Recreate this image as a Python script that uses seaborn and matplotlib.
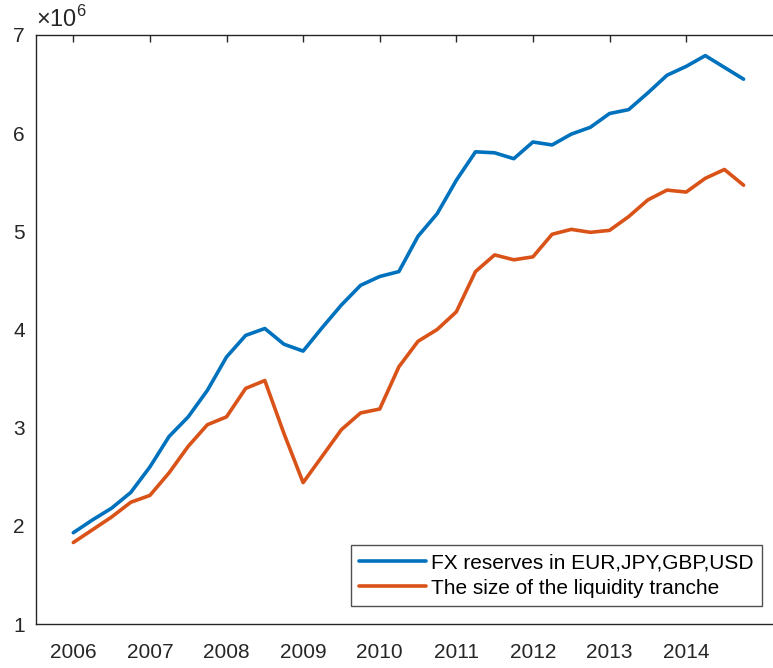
import numpy as np
import pandas as pd
import matplotlib
matplotlib.use("Agg")
import matplotlib.pyplot as plt
import seaborn as sns

# quarterly observations, values in millions (axis shows x10^6)
quarters = np.arange(2006, 2015, 0.25)
fx_reserves = [1.93, 2.06, 2.18, 2.34, 2.60, 2.91, 3.11, 3.38,
               3.72, 3.94, 4.01, 3.85, 3.78, 4.02, 4.25, 4.45,
               4.54, 4.59, 4.95, 5.18, 5.52, 5.81, 5.80, 5.74,
               5.91, 5.88, 5.99, 6.06, 6.20, 6.24, 6.41, 6.59,
               6.68, 6.79, 6.67, 6.55]
liquidity_tranche = [1.83, 1.96, 2.09, 2.24, 2.31, 2.54, 2.81, 3.03,
                     3.11, 3.40, 3.48, 2.94, 2.44, 2.71, 2.98, 3.15,
                     3.19, 3.62, 3.88, 4.00, 4.18, 4.59, 4.76, 4.71,
                     4.74, 4.97, 5.02, 4.99, 5.01, 5.15, 5.32, 5.42,
                     5.40, 5.54, 5.63, 5.47]
series_names = ["FX reserves in EUR,JPY,GBP,USD", "The size of the liquidity tranche"]
year_ticks = [2006, 2007, 2008, 2009, 2010, 2011, 2012, 2013, 2014]

df = pd.DataFrame({
    "date": np.concatenate([quarters, quarters]),
    "value": fx_reserves + liquidity_tranche,
    "series": [series_names[0]] * len(quarters) + [series_names[1]] * len(quarters),
})

sns.set_style("white")
plt.rcParams["font.family"] = ["Liberation Sans", "DejaVu Sans"]
plt.rcParams["mathtext.fontset"] = "custom"
plt.rcParams["mathtext.rm"] = "Liberation Sans"
ink = "#262626"
fs = 15

fig = plt.figure(figsize=(7.73, 6.68), dpi=100)
ax = fig.add_axes([36 / 773, 44 / 668, 737 / 773, 589 / 668])

sns.lineplot(data=df, x="date", y="value", hue="series",
             palette=["#0072BD", "#D95319"], linewidth=2.6, ax=ax)

ax.set_xlim(2005.513, 2015.134)
ax.set_ylim(1, 7)
ax.set_xticks(year_ticks)
ax.set_yticks(range(1, 8))
ax.set_xlabel("")
ax.set_ylabel("")
ax.tick_params(direction="in", length=5, width=1, colors=ink,
               labelsize=fs, top=True)
ax.tick_params(axis="x", pad=13.5)
ax.tick_params(axis="y", pad=8)
for side in ["left", "bottom", "top"]:
    ax.spines[side].set_color(ink)
    ax.spines[side].set_linewidth(1)
ax.spines["right"].set_visible(False)

ax.text(0.0, 1.006, r"$\mathrm{\times}10^{6}$", transform=ax.transAxes,
        fontsize=17, color=ink, ha="left", va="bottom")

leg = ax.legend(loc="lower right", bbox_to_anchor=(0.985, 0.0306),
                borderaxespad=0, fontsize=fs, frameon=True, fancybox=False,
                handlelength=3.2, handletextpad=0.25, labelspacing=0.3,
                borderpad=0.4)
leg.get_frame().set_edgecolor(ink)
leg.get_frame().set_linewidth(1)
for t in leg.get_texts():
    t.set_color("black")

fig.savefig("out.png", dpi=100)
